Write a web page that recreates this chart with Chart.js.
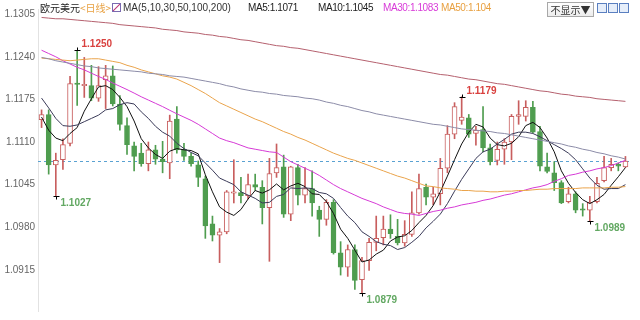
<!DOCTYPE html>
<html><head><meta charset="utf-8">
<script src="https://cdn.jsdelivr.net/npm/chart.js@4.4.1/dist/chart.umd.min.js"></script>
<style>
html,body{margin:0;padding:0;background:#fff;}
#wrap{position:relative;width:640px;height:320px;overflow:hidden;background:#fff;}
canvas{position:absolute;left:0;top:0;}
.t{position:absolute;top:1px;font:10px "Liberation Sans",Arial,sans-serif;line-height:14px;white-space:nowrap;}
.h{letter-spacing:-0.4px;}
.ic{position:absolute;top:3px;width:8px;height:8px;border:1px solid #5a7fc0;background:#e6eefa;}
</style></head><body>
<div id="wrap">
<canvas id="c" width="640" height="320"></canvas>
<span class="t" style="left:40px;font-family:'Noto Sans CJK SC',sans-serif;color:#222">欧元美元</span>
<span class="t" style="left:80px;font-family:'Noto Sans CJK SC',sans-serif;color:#e8a040">&lt;日线&gt;</span>
<span style="position:absolute;left:112px;top:3px;width:7px;height:7px;border:1px solid #7a6ab0;background:linear-gradient(135deg,#fff 40%,#c04080 50%,#fff 60%);"></span>
<span class="t" id="maSpec" style="left:123px;color:#333"></span>
<div id="maHeads"></div>
<span style="position:absolute;left:547px;top:2px;width:45px;height:13px;border:1px solid #a8a8a8;background:linear-gradient(#ffffff,#ececec);font:10px 'Noto Sans CJK SC',sans-serif;line-height:13px;text-align:center;color:#333;">不显示▼</span>
<span class="ic" style="left:597px"></span>
<span class="ic" style="left:608px"></span>
<span class="ic" style="left:619px"></span>
</div>
<script>
// ---------------- data ----------------
const categories = Array.from({length: 83}, (_, i) => String(i + 1));

const opens = [
1.1144,1.1152,1.1075,1.1083,1.1108,1.1200,1.1196,1.1196,1.1177,1.1205,
1.1211,1.1168,1.1135,1.1104,1.1093,1.1077,1.1098,1.1084,1.1078,1.1145,
1.1099,1.1088,1.1075,1.1054,1.0985,1.0968,1.0973,1.1032,1.1033,1.1028,
1.1045,1.1041,1.1010,1.1063,1.1072,1.1000,1.1071,1.1029,1.1039,1.1006,
1.0992,1.1018,1.0941,1.0919,1.0946,1.0900,1.0929,1.0957,1.0964,1.0977,
1.0966,1.0956,1.0969,1.1002,1.1041,1.1026,1.1031,1.1070,1.1122,1.1143,
1.1147,1.1123,1.1129,1.1101,1.1082,1.1099,1.1110,1.1149,1.1149,1.1163,
1.1126,1.1072,1.1063,1.1048,1.1019,1.1031,1.1008,1.1006,1.1019,1.1051,
1.1071,1.1076,1.1072];

const highs = [
1.1159,1.1159,1.1093,1.1115,1.1210,1.1250,1.1239,1.1227,1.1225,1.1227,
1.1226,1.1181,1.1147,1.1110,1.1108,1.1110,1.1105,1.1111,1.1151,1.1164,
1.1108,1.1093,1.1081,1.1058,1.0997,1.0978,1.1036,1.1083,1.1056,1.1061,
1.1061,1.1051,1.1085,1.1107,1.1090,1.1073,1.1076,1.1071,1.1066,1.1012,
1.1022,1.1022,1.0958,1.0953,1.0953,1.0934,1.0963,1.0997,1.0997,1.0999,
1.0992,1.0990,1.1034,1.1061,1.1046,1.1041,1.1085,1.1135,1.1170,1.1179,
1.1152,1.1134,1.1164,1.1107,1.1110,1.1115,1.1152,1.1173,1.1173,1.1172,
1.1134,1.1093,1.1080,1.1051,1.1041,1.1034,1.1016,1.1027,1.1056,1.1088,
1.1085,1.1078,1.1088];

const lows = [
1.1132,1.1061,1.1027,1.1068,1.1104,1.1166,1.1178,1.1173,1.1172,1.1161,
1.1165,1.1128,1.1091,1.1066,1.1073,1.1066,1.1076,1.1063,1.1054,1.1093,
1.1082,1.1073,1.1042,1.0963,1.0959,1.0926,1.0970,1.1017,1.1017,1.1023,
1.1036,1.0985,1.0928,1.1056,1.0995,1.0990,1.1014,1.1017,1.0997,1.0966,
1.0983,1.0939,1.0907,1.0905,1.0885,1.0879,1.0914,1.0944,1.0953,1.0963,
1.0953,1.0951,1.0966,1.1000,1.1014,1.1014,1.1014,1.1063,1.1115,1.1137,
1.1117,1.1105,1.1095,1.1075,1.1075,1.1076,1.1083,1.1137,1.1142,1.1124,
1.1066,1.1063,1.1036,1.1016,1.1017,1.1002,1.0997,1.0989,1.1017,1.1049,
1.1066,1.1066,1.1071];

const closes = [
1.1152,1.1075,1.1082,1.1106,1.1199,1.1198,1.1198,1.1177,1.1196,1.1211,
1.1168,1.1137,1.1106,1.1088,1.1077,1.1098,1.1084,1.1080,1.1142,1.1098,
1.1088,1.1077,1.1056,1.0982,1.0968,1.0973,1.1034,1.1034,1.1028,1.1045,
1.1041,1.1010,1.1062,1.1071,1.1000,1.1072,1.1029,1.1039,1.1017,1.0992,
1.1018,1.0941,1.0919,1.0946,1.0899,1.0929,1.0957,1.0963,1.0977,1.0970,
1.0956,1.0969,1.1002,1.1039,1.1026,1.1031,1.1070,1.1122,1.1164,1.1148,
1.1122,1.1128,1.1101,1.1080,1.1099,1.1110,1.1149,1.1152,1.1163,1.1125,
1.1073,1.1065,1.1048,1.1017,1.1031,1.1006,1.1006,1.1018,1.1047,1.1071,
1.1076,1.1073,1.1081];

const ma5 = [
1.1148,1.1128,1.1116,1.1112,1.1123,1.1132,1.1157,1.1176,1.1194,1.1196,
1.1190,1.1178,1.1164,1.1142,1.1115,1.1101,1.1091,1.1085,1.1096,1.1100,
1.1098,1.1097,1.1092,1.1060,1.1034,1.1011,1.1003,1.0998,1.1007,1.1023,
1.1036,1.1032,1.1037,1.1046,1.1037,1.1043,1.1047,1.1042,1.1031,1.1030,
1.1019,1.1001,1.0977,1.0963,1.0945,1.0927,1.0930,1.0939,1.0945,1.0959,
1.0965,1.0967,1.0975,1.0987,1.0998,1.1013,1.1034,1.1058,1.1083,1.1107,
1.1125,1.1137,1.1133,1.1116,1.1106,1.1104,1.1108,1.1118,1.1135,1.1140,
1.1132,1.1116,1.1095,1.1066,1.1047,1.1033,1.1022,1.1016,1.1022,1.1030,
1.1044,1.1057,1.1071];

const ma10 = [
1.1177,1.1162,1.1146,1.1135,1.1134,1.1136,1.1141,1.1146,1.1151,1.1159,
1.1161,1.1167,1.1170,1.1168,1.1156,1.1146,1.1134,1.1125,1.1119,1.1108,
1.1100,1.1094,1.1089,1.1078,1.1067,1.1055,1.1050,1.1045,1.1034,1.1029,
1.1024,1.1017,1.1018,1.1027,1.1030,1.1040,1.1039,1.1040,1.1039,1.1033,
1.1031,1.1024,1.1010,1.0997,1.0987,1.0973,1.0966,1.0958,1.0954,1.0952,
1.0946,1.0949,1.0957,1.0966,1.0979,1.0989,1.1000,1.1016,1.1035,1.1053,
1.1069,1.1085,1.1095,1.1099,1.1107,1.1114,1.1122,1.1125,1.1125,1.1123,
1.1118,1.1112,1.1106,1.1100,1.1093,1.1083,1.1069,1.1055,1.1044,1.1038,
1.1039,1.1039,1.1045];

const ma30 = [
1.1250,1.1245,1.1240,1.1234,1.1229,1.1224,1.1220,1.1215,1.1210,1.12055,
1.1200,1.1195,1.1190,1.11846,1.1179,1.1174,1.1169,1.1164,1.11584,1.1153,
1.1148,1.1143,1.1137,1.1130,1.1123,1.1116,1.1112,1.1109,1.1105,1.1101,
1.1099,1.1097,1.1095,1.1094,1.1087,1.1080,1.1075,1.1070,1.1065,1.1059,
1.1052,1.1045,1.1039,1.1034,1.1029,1.1024,1.1020,1.1016,1.1011,1.1007,
1.1003,1.1001,1.1000,1.0998,1.1001,1.1004,1.1006,1.1009,1.1011,1.1014,
1.1016,1.1018,1.1021,1.1023,1.1026,1.1029,1.1031,1.1034,1.1037,1.1040,
1.1042,1.1045,1.1050,1.1054,1.1059,1.1061,1.1064,1.1066,1.1069,1.1071,
1.1074,1.1078,1.1082];

const ma50 = [
1.1238,1.1237,1.1236,1.1235,1.1234,1.1235,1.1236,1.1237,1.1237,1.1235,
1.1233,1.1231,1.1227,1.1224,1.1220,1.1217,1.1214,1.1211,1.1209,1.1206,
1.1201,1.1196,1.1190,1.1184,1.1177,1.1170,1.1165,1.1160,1.1155,1.1150,
1.1145,1.1141,1.1136,1.1131,1.1126,1.1122,1.1117,1.1113,1.1108,1.1103,
1.1098,1.1093,1.1089,1.1085,1.1082,1.1078,1.1074,1.1070,1.1066,1.1062,
1.1058,1.1055,1.1051,1.1047,1.1043,1.1042,1.1040,1.1039,1.1038,1.1036,
1.1036,1.1035,1.1035,1.1034,1.1034,1.1035,1.1035,1.1036,1.1036,1.1037,
1.1038,1.1038,1.1039,1.1039,1.1039,1.1039,1.1040,1.1040,1.1040,1.1040,
1.1041,1.1041,1.1042];

const ma100 = [
1.1239,1.1237,1.1234,1.1232,1.1230,1.1228,1.1226,1.1225,1.1223,1.1222,
1.1221,1.1220,1.1219,1.1218,1.1217,1.1215,1.1214,1.1213,1.1211,1.1210,
1.1209,1.1207,1.1205,1.1203,1.1201,1.1199,1.1196,1.1194,1.1191,1.1189,
1.1187,1.1186,1.1184,1.1183,1.1181,1.1180,1.1179,1.1177,1.1176,1.1174,
1.1171,1.1169,1.1166,1.1164,1.1161,1.1158,1.1156,1.1153,1.1151,1.1149,
1.1147,1.1145,1.1143,1.1141,1.1139,1.1137,1.1136,1.1134,1.1132,1.1130,
1.1129,1.1128,1.1127,1.1126,1.1124,1.1123,1.1121,1.1119,1.1117,1.1115,
1.1113,1.1111,1.1109,1.1107,1.1104,1.1102,1.1099,1.1097,1.1094,1.1092,
1.1089,1.1087,1.1084];

const ma200 = [
1.1300,1.1299,1.1298,1.1298,1.1297,1.1296,1.1295,1.1294,1.1293,1.1292,
1.1291,1.1289,1.1288,1.1287,1.1286,1.1285,1.1284,1.1282,1.1281,1.1280,
1.1278,1.1277,1.1276,1.1274,1.1273,1.1271,1.1270,1.1268,1.1266,1.1265,
1.1263,1.1261,1.1259,1.1257,1.1256,1.1254,1.1253,1.1251,1.1249,1.1247,
1.1245,1.1243,1.1241,1.1239,1.1237,1.1235,1.1233,1.1231,1.1229,1.1227,
1.1225,1.1223,1.1221,1.1219,1.1217,1.1215,1.1213,1.1212,1.1210,1.1208,
1.1206,1.1205,1.1203,1.1201,1.1199,1.1198,1.1196,1.1194,1.1192,1.1190,
1.1188,1.1187,1.1185,1.1183,1.1182,1.1180,1.1179,1.1178,1.1176,1.1175,
1.1174,1.1173,1.1172];

const yTicks = [1.1305, 1.1240, 1.1175, 1.1110, 1.1045, 1.0980, 1.0915];
const markIdx  = [5, 59, 2, 45, 77];
const markType = ['high', 'high', 'low', 'low', 'low'];
const maSpec = 'MA(5,10,30,50,100,200)';
const maHeadNames = ['MA5', 'MA10', 'MA30', 'MA50'];
const maHeadLast  = ['1.1071', '1.1045', '1.1083', '1.104'];

// ---------------- styles ----------------
const UP = '#c85e5e', DOWN = '#4f9d4f';
const headColors = ['#222', '#222', '#d83ad8', '#e8a040'];
const headLeft = [248, 318, 383, 441];

document.getElementById('maSpec').textContent = maSpec;
const heads = document.getElementById('maHeads');
maHeadNames.forEach((n, k) => {
  const s = document.createElement('span');
  s.className = 't h';
  s.style.left = headLeft[k] + 'px';
  s.style.color = headColors[k];
  s.textContent = n + ':' + maHeadLast[k];
  heads.appendChild(s);
});

const isUp = closes.map((c, i) => c >= opens[i]);

const extras = {
  id: 'extras',
  beforeDatasetsDraw(chart) {
    const ctx = chart.ctx, y = chart.scales.y, a = chart.chartArea;
    ctx.save();
    ctx.strokeStyle = '#5aa2d2';
    ctx.lineWidth = 1;
    ctx.setLineDash([3, 3]);
    const yy = Math.round(y.getPixelForValue(closes[closes.length - 1])) + 0.5;
    ctx.beginPath(); ctx.moveTo(a.left, yy); ctx.lineTo(a.right, yy); ctx.stroke();
    ctx.restore();
  },
  afterDatasetsDraw(chart) {
    const ctx = chart.ctx, x = chart.scales.x, y = chart.scales.y;
    ctx.save();
    ctx.font = 'bold 10px "Liberation Sans", Arial, sans-serif';
    ctx.textBaseline = 'middle';
    ctx.textAlign = 'left';
    markIdx.forEach((i, k) => {
      const hi = markType[k] === 'high';
      const v = hi ? highs[i] : lows[i];
      const px = Math.round(x.getPixelForValue(i)) + 0.5;
      const py = Math.round(y.getPixelForValue(v)) + 0.5;
      ctx.strokeStyle = '#000';
      ctx.lineWidth = 1;
      ctx.beginPath();
      ctx.moveTo(px - 3, py); ctx.lineTo(px + 3, py);
      ctx.moveTo(px, py); ctx.lineTo(px, hi ? py - 3 : py + 3);
      ctx.stroke();
      ctx.fillStyle = hi ? '#d9413f' : '#62a862';
      ctx.fillText(v.toFixed(4), px + 4, hi ? py - 6 : py + 7);
    });
    ctx.restore();
  }
};

const lineDs = (data, color, order) => ({
  type: 'line', data, borderColor: color, borderWidth: 1, pointRadius: 0,
  tension: 0, fill: false, order
});

new Chart(document.getElementById('c'), {
  type: 'bar',
  data: {
    labels: categories,
    datasets: [
      lineDs(ma200, '#b5606e', 0),
      lineDs(ma100, '#8c8ca8', 0),
      lineDs(ma50, '#eaa44c', 0),
      lineDs(ma30, '#d63ad6', 0),
      lineDs(ma10, '#3a3a58', 0),
      lineDs(ma5, '#111111', 0),
      {
        type: 'bar',
        data: opens.map((o, i) => [o, closes[i]]),
        backgroundColor: isUp.map(u => u ? '#ffffff' : DOWN),
        borderColor: isUp.map(u => u ? UP : DOWN),
        borderWidth: 1, borderSkipped: false, barThickness: 5,
        minBarLength: 1, grouped: false, order: 1
      },
      {
        type: 'bar',
        data: lows.map((l, i) => [l, highs[i]]),
        backgroundColor: isUp.map(u => u ? UP : DOWN),
        borderWidth: 0, barThickness: 1, grouped: false, order: 2
      }
    ]
  },
  options: {
    responsive: false, animation: false, devicePixelRatio: 1,
    layout: { padding: { top: 6, right: 11, bottom: 0, left: 0 } },
    plugins: { legend: { display: false }, tooltip: { enabled: false } },
    events: [],
    scales: {
      x: { display: false },
      y: {
        min: 1.08522, max: 1.13129,
        grid: { display: false, drawTicks: false },
        border: { display: true, color: '#e2e2e2' },
        ticks: {
          color: '#666', padding: 3,
          font: { size: 10, family: '"Liberation Sans", Arial, sans-serif' },
          callback: v => Number(v).toFixed(4)
        },
        afterBuildTicks: s => { s.ticks = yTicks.map(v => ({ value: v })); },
        afterFit: s => { s.width = 38; }
      }
    }
  },
  plugins: [extras]
});
</script>
</body></html>
